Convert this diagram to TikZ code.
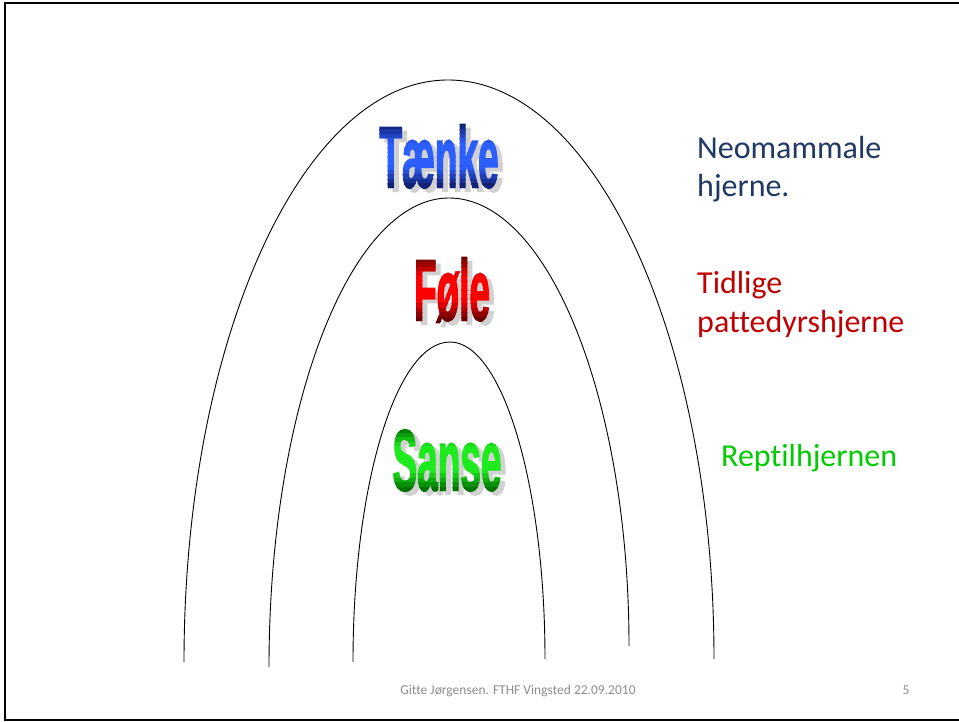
\documentclass[tikz,border=0pt]{standalone}
\usepackage{fontspec}
\setmainfont{Carlito}[Ligatures=NoCommon]
\newfontfamily\wordfont{Liberation Sans}[UprightFont=* Bold, FakeBold=2.5]
\usepackage{tikz}
\usetikzlibrary{positioning}

\definecolor{neoblue}{RGB}{31,56,100}
\definecolor{tidred}{RGB}{192,0,0}
\definecolor{repgreen}{RGB}{0,204,0}
\definecolor{footgray}{RGB}{140,140,140}
\definecolor{tankedark}{RGB}{16,30,110}
\definecolor{tankelight}{RGB}{45,95,255}
\definecolor{foledark}{RGB}{100,0,0}
\definecolor{folelight}{RGB}{255,0,0}
\definecolor{sansedark}{RGB}{0,110,0}
\definecolor{sanselight}{RGB}{30,235,30}

\begin{document}
\begin{tikzpicture}[x=1pt, y=-1pt,
    word/.style = {font=\wordfont\fontsize{86}{86}\selectfont, xscale=0.43, inner sep=0pt, anchor=base},
    wshadow/.style = {word, text=black!18},
    sidetext/.style = {font=\fontsize{32}{38}\selectfont, inner sep=0pt, anchor=base west},
    layer/.style = {line width=0.9pt}]
      \useasboundingbox (0,0) rectangle (959,722);
      %% ramme
      \draw[line width=2.5pt] (959,3) -- (5,3) -- (5,720) -- (959,720);
      %% de tre hjernelag
      \draw[layer] (184,662) .. controls (184,341) and (302,80) .. (448,80)
                   .. controls (595,80) and (714,339) .. (714,659);
      \draw[layer] (269,667) .. controls (269,408) and (350,198) .. (449,198)
                   .. controls (548,198) and (629,399) .. (629,646);
      \draw[layer] (353,662) .. controls (353,485) and (396,342) .. (450,342)
                   .. controls (502,342) and (545,484) .. (545,659);
      %% ordkunst: skygge og farveforloeb i vandrette baand
      \foreach \name/\wx/\wy/\dark/\light/\txt in {tanke/439/187/tankedark/tankelight/Tænke,
          fole/452/320/foledark/folelight/Føle, sanse/447/490/sansedark/sanselight/Sanse} {
        \node[wshadow] (\name-shadow) at (\wx+5,\wy+4) {\txt};
        \foreach \i in {0,...,15} {
          \pgfmathsetmacro\mix{max(0,min(100,160*(1-2*abs((\i*4.5-1.75)/62-0.5))))}
          \begin{scope}
            \clip (\wx-80,\wy-66+\i*4.5) rectangle (\wx+80,\wy-61.4+\i*4.5);
            \node[word, text=\light!\mix!\dark] (\name-\i) at (\wx,\wy) {\txt};
          \end{scope}
        }
      }
      %% forklaringer
      \node[sidetext, text=neoblue] (neo) at (697,159) {Neomammale};
      \node[sidetext, text=neoblue] (neohjerne) at (697,197) {hjerne.};
      \node[sidetext, text=tidred] (tidlige) at (697,294) {Tidlige};
      \node[sidetext, text=tidred] (patte) at (697,332) {pattedyrshjerne};
      \node[sidetext, text=repgreen] (reptil) at (721,466) {Reptilhjernen};
      %% sidefod
      \node[font=\fontsize{13.5}{14}\selectfont, text=footgray, anchor=base] (footer) at (518,694) {Gitte Jørgensen. FTHF Vingsted 22.09.2010};
      \node[font=\fontsize{13.5}{14}\selectfont, text=footgray, anchor=base] (pagenum) at (906,694) {5};
\end{tikzpicture}
\end{document}
